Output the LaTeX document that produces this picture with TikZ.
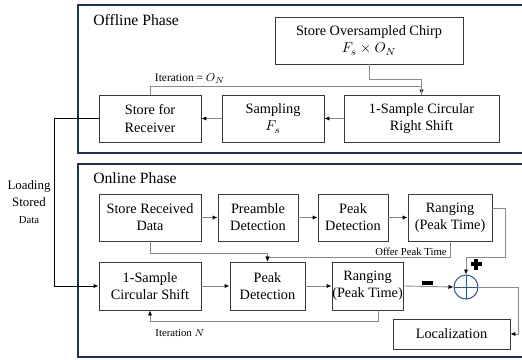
\documentclass[tikz,border=0pt]{standalone}
\usepackage{fontspec}
\setmainfont{Liberation Serif}
\usepackage{amsmath}
\usepackage{tikz}
\usetikzlibrary{arrows.meta, positioning}
\definecolor{framenavy}{HTML}{1F3058}
\definecolor{sumblue}{HTML}{2F5597}
\definecolor{boxgray}{HTML}{3A3A3A}
\definecolor{linegray}{HTML}{8A8A8A}

\begin{document}
\begin{tikzpicture}[x=0.7pt, y=-0.7pt]
    \tikzstyle{blk}=[draw=boxgray, line width=0.6pt, align=center, inner sep=0pt, font=\fontsize{10}{12}\selectfont]
    \tikzstyle{conn}=[draw=linegray, line width=0.6pt, -{Latex[black, length=3.5pt, width=3pt]}]
    \tikzstyle{phase}=[draw=framenavy, line width=1.6pt]
    \tikzstyle{small}=[inner sep=0pt, font=\fontsize{7.5}{9}\selectfont]
    \useasboundingbox (0,0) rectangle (522,359);
    % phase frames
    \draw[phase] (78,5) rectangle (540,153);
    \draw[phase] (78,164) rectangle (540,357);
    \draw (93,20) node[anchor=west, inner sep=0pt, font=\fontsize{11}{13}\selectfont] (offl) {Offline Phase} ;
    \draw (93,178) node[anchor=west, inner sep=0pt, font=\fontsize{11}{13}\selectfont] (onl) {Online Phase} ;
    % offline blocks
    \draw (369,40.5) node[blk, minimum width=188*0.7pt, minimum height=47*0.7pt] (chirp) {Store Oversampled Chirp\\$F_s \times O_N$} ;
    \draw (150,118.5) node[blk, minimum width=102*0.7pt, minimum height=47*0.7pt] (recv) {Store for\\Receiver} ;
    \draw (273,118.5) node[blk, minimum width=102*0.7pt, minimum height=47*0.7pt] (samp) {Sampling\\$F_s$} ;
    \draw (421.5,118.5) node[blk, minimum width=155*0.7pt, minimum height=47*0.7pt] (rshift) {1-Sample Circular\\Right Shift} ;
    % online blocks, first row
    \draw (150,217.5) node[blk, minimum width=102*0.7pt, minimum height=47*0.7pt] (srd) {Store Received\\Data} ;
    \draw (258,217.5) node[blk, minimum width=80*0.7pt, minimum height=47*0.7pt] (pre) {Preamble\\Detection} ;
    \draw (353,217.5) node[blk, minimum width=70*0.7pt, minimum height=47*0.7pt] (pk1) {Peak\\Detection} ;
    \draw (450,217.5) node[blk, minimum width=84*0.7pt, minimum height=47*0.7pt] (rng1) {Ranging\\(Peak Time)} ;
    % online blocks, second row
    \draw (150,286) node[blk, minimum width=102*0.7pt, minimum height=48*0.7pt] (cshift) {1-Sample\\Circular Shift} ;
    \draw (267.5,286) node[blk, minimum width=75*0.7pt, minimum height=48*0.7pt] (pk2) {Peak\\Detection} ;
    \draw (367.5,286) node[blk, minimum width=71*0.7pt, minimum height=48*0.7pt] (rng2) {Ranging\\(Peak Time)} ;
    \draw (451.5,334) node[blk, minimum width=117*0.7pt, minimum height=30*0.7pt] (loc) {Localization} ;
    \draw (466,287) node[circle, draw=sumblue, line width=0.7pt, minimum size=24*0.7pt, inner sep=0pt,
        path picture={\draw[sumblue, line width=0.7pt] (path picture bounding box.north) -- (path picture bounding box.south)
        (path picture bounding box.west) -- (path picture bounding box.east);}] (sum) {} ;
    % signs
    \draw[line width=2.2pt, line cap=butt] (422,283) -- (433,283) ;
    \draw[line width=2.2pt, line cap=butt] (470.5,264) -- (481.5,264) (476,258.5) -- (476,269.5) ;
    % offline connectors
    \draw[conn] (chirp.south) -- ++(0,15) -| (rshift.north) ;
    \draw[draw=linegray, line width=0.6pt] (recv.north) -- ++(0,-8) -| (rshift.north) ;
    \draw[conn] (rshift.west) -- (samp.east) ;
    \draw[conn] (samp.west) -- (recv.east) ;
    \draw (190,79) node[inner sep=0pt, font=\fontsize{8}{9}\selectfont] (itO) {Iteration = $O_N$} ;
    % loading stored data
    \draw[conn, draw=black] (recv.west) -- ++(-44,0) |- (cshift.west) ;
    \draw (29,202) node[align=center, inner sep=0pt, font=\fontsize{9}{12}\selectfont] (load) {Loading\\Stored\\{\fontsize{7.5}{9}\selectfont Data}} ;
    % online connectors
    \draw[conn] (srd.east) -- (pre.west) ;
    \draw[conn] (pre.east) -- (pk1.west) ;
    \draw[conn] (pk1.east) -- (rng1.west) ;
    \draw[conn] (srd.south) -- ++(0,12) -| (pk2.north) ;
    \draw[conn] (rng1.south) -- ++(0,16) -| (pk2.north) ;
    \draw (411,252) node[small] (offer) {Offer Peak Time} ;
    \draw[conn] (cshift.east) -- (pk2.west) ;
    \draw[conn] (pk2.east) -- (rng2.west) ;
    \draw[conn] (rng2.east) -- (sum.west) ;
    \draw[conn] ([yshift=6.6pt]rng1.east) -- ++(13,0) -- ++(0,49) -| (sum.north) ;
    \draw[conn] (sum.east) -- ++(40,0) |- (loc.east) ;
    \draw[conn] ([xshift=7.3pt]rng2.south) -- ++(0,11) -| (cshift.south) ;
    \draw (180,333) node[small] (itN) {Iteration $N$} ;
\end{tikzpicture}
\end{document}
